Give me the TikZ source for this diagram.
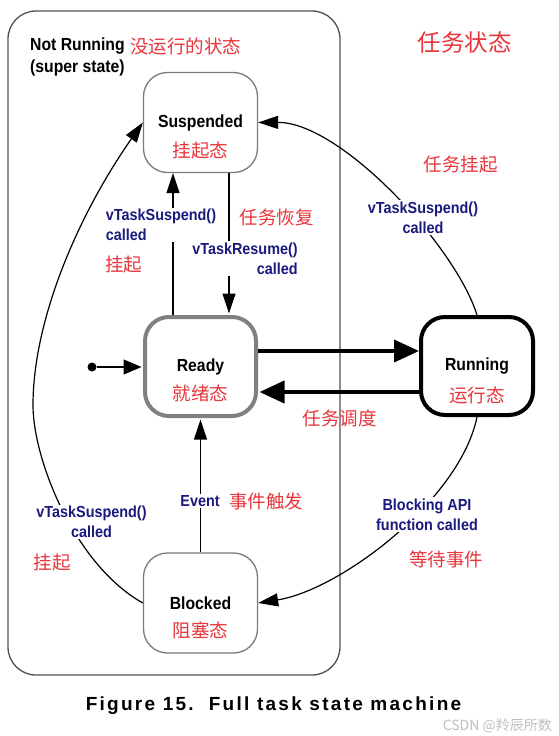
\documentclass[tikz,border=0pt]{standalone}
\usepackage{fontspec}
\setmainfont{Liberation Sans}
\newfontfamily\lab{Liberation Sans}[FakeStretch=0.9]
\newfontfamily\cjk{Noto Sans CJK SC}
\newfontfamily\capfont{Liberation Sans}[LetterSpace=12]
\usetikzlibrary{arrows.meta,calc}
\definecolor{navy}{HTML}{1A1A7E}
\definecolor{cnred}{HTML}{E8363C}
\definecolor{boxgray}{HTML}{7A7A7A}
\definecolor{outergray}{HTML}{505050}
\begin{document}
\begin{tikzpicture}[x=1pt,y=-1pt,
  state/.style={draw=boxgray, line width=1.3pt, rounded corners=24pt, inner sep=0pt},
  sname/.style={font=\lab\bfseries\fontsize{17.5}{22}\selectfont, text=black, inner sep=0pt},
  cn/.style={font=\cjk\fontsize{18.5}{22}\selectfont, text=cnred, inner sep=0pt},
  call/.style={font=\lab\bfseries\fontsize{16}{20}\selectfont, text=navy, fill=white, inner sep=1.5pt},
  tr/.style={line width=1.2pt, -{Triangle[length=20pt,width=13pt]}},
  big/.style={line width=4pt, -{Triangle[length=25pt,width=22pt]}},
]
\useasboundingbox (0,0) rectangle (558,736);
\fill[white] (0,0) rectangle (558,736);

% super state
\node[draw=outergray, line width=1.3pt, rounded corners=28pt, minimum width=332pt, minimum height=664pt, inner sep=0pt] (super) at (174,343) {};

% states
\node[state, minimum width=114pt, minimum height=100pt] (susp) at (200.5,122.5) {};
\node[state, draw=gray, line width=4pt, minimum width=111pt, minimum height=99pt] (ready) at (200.5,366.5) {};
\node[state, draw=black, line width=4pt, minimum width=112pt, minimum height=98pt] (running) at (477,366) {};
\node[state, minimum width=114pt, minimum height=100pt] (blocked) at (200.5,603) {};

\node[sname] (suspname) at (susp.center) {Suspended};
\node[cn] (suspcn) at ($(susp.center)+(0,28)$) {挂起态};
\node[sname] (readyname) at (ready.center) {Ready};
\node[cn] (readycn) at ($(ready.center)+(0,27)$) {就绪态};
\node[sname] (runname) at (running.center) {Running};
\node[cn] (runcn) at ($(running.center)+(0,29)$) {运行态};
\node[sname] (blockname) at (blocked.center) {Blocked};
\node[cn] (blockcn) at ($(blocked.center)+(0,27)$) {阻塞态};

% titles
\node[font=\cjk\fontsize{23.5}{26}\selectfont, text=cnred, inner sep=0pt] (title) at (464.5,43) {任务状态};
\node[sname, anchor=west, align=left] (nr) at (30,57) {Not Running\\(super state)};
\node[cn, anchor=west] (nrcn) at (130,46) {没运行的状态};

% initial
\node[circle, fill=black, inner sep=0pt, minimum size=9pt] (init) at (92,367) {};
\draw[line width=1.2pt, -{Triangle[length=18pt,width=15pt]}, shorten >=1.5pt] (init) -- (init -| ready.west);

% Ready <-> Suspended
\draw[tr] ($(ready.north)+(-27.5,0)$) -- ($(susp.south)+(-27.5,0)$);
\draw[tr, shorten >=1.5pt] ($(susp.south)+(28.5,0)$) -- ($(ready.north)+(28.5,0)$);
\node[call, align=left] (l1) at (161,225) {vTaskSuspend()\\called};
\node[cn, anchor=west] (l1cn) at (105,265) {挂起};
\node[call, align=right] (l2) at (245,258.5) {vTaskResume()\\called};
\node[cn] (l2cn) at (276.5,217) {任务恢复};

% Ready <-> Running
\draw[big] ($(ready.east)+(0,-15.5)$) -- ($(running.west)+(0,-15)$);
\draw[big, shorten >=1.5pt] ($(running.west)+(0,26)$) -- ($(ready.east)+(0,25.5)$);
\node[cn] (sched) at (339.5,418) {任务调度};

% Running -> Suspended
\draw[tr] (running.north) .. controls (455,245) and (340,122) .. (susp.east);
\node[call, align=center] (l3) at (423,217.5) {vTaskSuspend()\\called};
\node[cn] (l3cn) at (460.5,165) {任务挂起};

% Running -> Blocked
\draw[tr] (running.south) .. controls (460,500) and (340,590) .. (blocked.east);
\node[call, align=center] (l4) at (427,514.5) {Blocking API\\function called};
\node[cn] (l4cn) at (446,559) {等待事件};

% Blocked -> Suspended
\coordinate (lw) at (33,405);
\draw[tr] (blocked.west) .. controls (75,565) and (33,460) .. (lw) .. controls (33,320) and (78,215) .. (susp.west);
\node[call, align=center] (l5) at (91.5,522) {vTaskSuspend()\\called};
\node[cn] (l5cn) at (52,563) {挂起};

% Blocked -> Ready
\draw[tr, shorten >=1.5pt] (blocked.north) -- (ready.south);
\node[call] (l6) at (200,501) {Event};
\node[cn, anchor=west] (l6cn) at (229,501) {事件触发};

% caption
\node[font=\capfont\bfseries\fontsize{19}{22}\selectfont, inner sep=0pt] (cap) at (273.5,706) {Figure 15.\ \ Full task state machine};
\node[font=\cjk\fontsize{14}{16}\selectfont, text=black!25, inner sep=0pt, anchor=east] (wm) at (552,726) {CSDN @羚辰所数};
\end{tikzpicture}
\end{document}
